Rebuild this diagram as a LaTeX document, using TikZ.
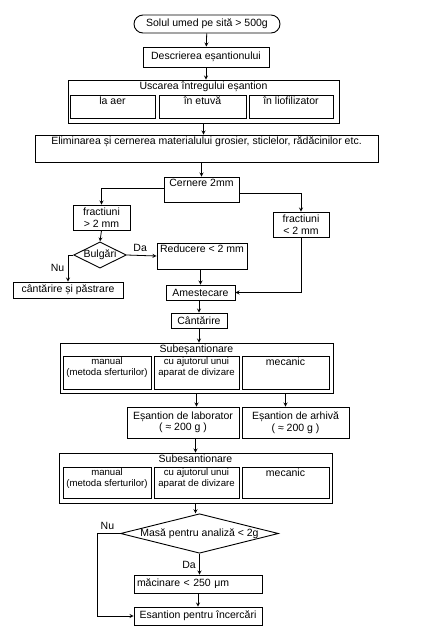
\documentclass[tikz,border=0pt]{standalone}
\usepackage{fontspec}
\setmainfont{Liberation Sans}
\usetikzlibrary{shapes.geometric,positioning}
\tikzset{
  box/.style={draw, rectangle, line width=0.9pt, inner sep=1pt, align=center},
  startbox/.style={box, rounded corners=9pt},
  decision/.style={draw, diamond, line width=0.9pt, inner sep=0pt, aspect=#1},
  decision/.default=2,
  toptext/.style={label={[anchor=north, inner sep=2pt, align=center]north:#1}},
  smalltop/.style={label={[anchor=north, inner sep=2pt, align=center, font=\fontsize{9.6}{11}\selectfont]north:#1}},
}
\begin{document}
\begin{tikzpicture}[>=stealth, x=1pt, y=-1pt, line width=0.8pt, font=\fontsize{10.5}{11.5}\selectfont]
  \useasboundingbox (0,0) rectangle (422,638);
  % start and drying
  \node[startbox, minimum width=146pt, minimum height=18pt] (start) at (207,24) {Solul umed pe sită > 500g};
  \node[box, minimum width=126pt, minimum height=20pt] (descr) at (206,57) {Descrierea eșantionului};
  \node[box, minimum width=271pt, minimum height=43pt, toptext={Uscarea întregului eșantion}] (usc) at (203.5,101.5) {};
  \node[box, minimum width=85pt, minimum height=23pt, toptext={la aer}] (aer) at (112.5,106.5) {};
  \node[box, minimum width=87pt, minimum height=23pt, toptext={în etuvă}] (etuva) at (202.5,106.5) {};
  \node[box, minimum width=84pt, minimum height=23pt, toptext={în liofilizator}] (liof) at (291,106.5) {};
  \node[box, minimum width=343pt, minimum height=27pt, toptext={Eliminarea și cernerea materialului grosier, sticlelor, rădăcinilor etc.}] (elim) at (206.5,148.5) {};
  % sieving
  \node[box, minimum width=75pt, minimum height=25pt, toptext={Cernere 2mm}] (cern) at (201.5,189.5) {};
  \node[box, minimum width=57pt, minimum height=25pt] (fr1) at (101.5,217.5) {fractiuni\\> 2 mm};
  \node[box, minimum width=56pt, minimum height=25pt] (fr2) at (301,224.5) {fractiuni\\< 2 mm};
  \node[decision] (bulg) at (100,255) {Bulgări};
  \node[box, minimum width=90pt, minimum height=26pt, toptext={Reducere < 2 mm}] (red) at (202,256) {};
  \node[box, minimum width=110pt, minimum height=16pt] (cant1) at (68,290) {cântărire și păstrare};
  \node[box, minimum width=69pt, minimum height=15pt] (amest) at (200.5,292.5) {Amestecare};
  \node[box, minimum width=56pt, minimum height=15pt] (cant2) at (199,320.5) {Cântărire};
  % first subsampling
  \node[box, minimum width=273pt, minimum height=50pt, toptext={Subeșantionare}] (sub1) at (196.5,368) {};
  \node[box, minimum width=88pt, minimum height=33pt, smalltop={manual\\(metoda sferturilor)}] (man1) at (107,372.5) {};
  \node[box, minimum width=85pt, minimum height=33pt, smalltop={cu ajutorul unui\\aparat de divizare}] (cu1) at (196.5,372.5) {};
  \node[box, minimum width=87pt, minimum height=33pt, toptext={mecanic}] (mec1) at (285.5,372.5) {};
  \node[box, minimum width=112pt, minimum height=31pt] (lab) at (183,422.5) {Eșantion de laborator\\( ≈ 200 g )};
  \node[box, minimum width=107pt, minimum height=31pt] (arh) at (295.5,422.5) {Eșantion de arhivă\\( ≈ 200 g )};
  % second subsampling
  \node[box, minimum width=273pt, minimum height=50pt, toptext={Subesantionare}] (sub2) at (195.5,478) {};
  \node[box, minimum width=88pt, minimum height=31pt, smalltop={manual\\(metoda sferturilor)}] (man2) at (107,482.5) {};
  \node[box, minimum width=85pt, minimum height=31pt, smalltop={cu ajutorul unui\\aparat de divizare}] (cu2) at (196.5,482.5) {};
  \node[box, minimum width=87pt, minimum height=31pt, toptext={mecanic}] (mec2) at (285.5,482.5) {};
  \node[decision=4] (masa) at (199.5,533.5) {Masă pentru analiză < 2g};
  \node[box, minimum width=128pt, minimum height=18pt, text width=122pt, align=left] (mac) at (198,584) {măcinare < 250 μm};
  \node[box, minimum width=128pt, minimum height=18pt] (esp) at (198,616) {Esantion pentru încercări};
  \coordinate (nuturn) at (97,533.5);
  % connectors
  \draw[->] (start) -- (descr);
  \draw[->] (descr.south) -- (descr.south |- usc.north);
  \draw[->] (usc.south) -- (usc.south |- elim.north);
  \draw[->] (elim.south -| cern.north) -- (cern.north);
  \draw[->] ([yshift=1.5pt]cern.west) -| (fr1.north);
  \draw[->] ([yshift=-3.5pt]cern.east) -| (fr2.north);
  \draw[->] (fr1.south) -- (bulg.north);
  \draw[->] (bulg.east) -- (red.west) node[pos=0.45, above] {Da};
  \draw[->] (bulg.west) -| (cant1.north) node[pos=0.75, left] {Nu};
  \draw[->] (red.south -| amest.north) -- (amest.north);
  \draw[->] (fr2.south) |- (amest.east);
  \draw[->] (amest.south -| cant2.north) -- (cant2.north);
  \draw[->] (cant2.south) -- (cant2.south |- sub1.north);
  \draw[->] (sub1.south) -- (sub1.south |- lab.north);
  \draw[->] (mec1.south |- sub1.south) -- (mec1.south |- arh.north);
  \draw[->] (sub2.north |- lab.south) -- (sub2.north);
  \draw[->] (sub2.south) -- (sub2.south |- masa.north);
  \draw[->] (masa.west) -- (nuturn) node[pos=0.55, above] {Nu} |- (esp.west);
  \draw[->] (masa.south) -- (masa.south |- mac.north) node[pos=0.55, left] {Da};
  \draw[->] (mac.south) -- (esp.north);
\end{tikzpicture}
\end{document}
